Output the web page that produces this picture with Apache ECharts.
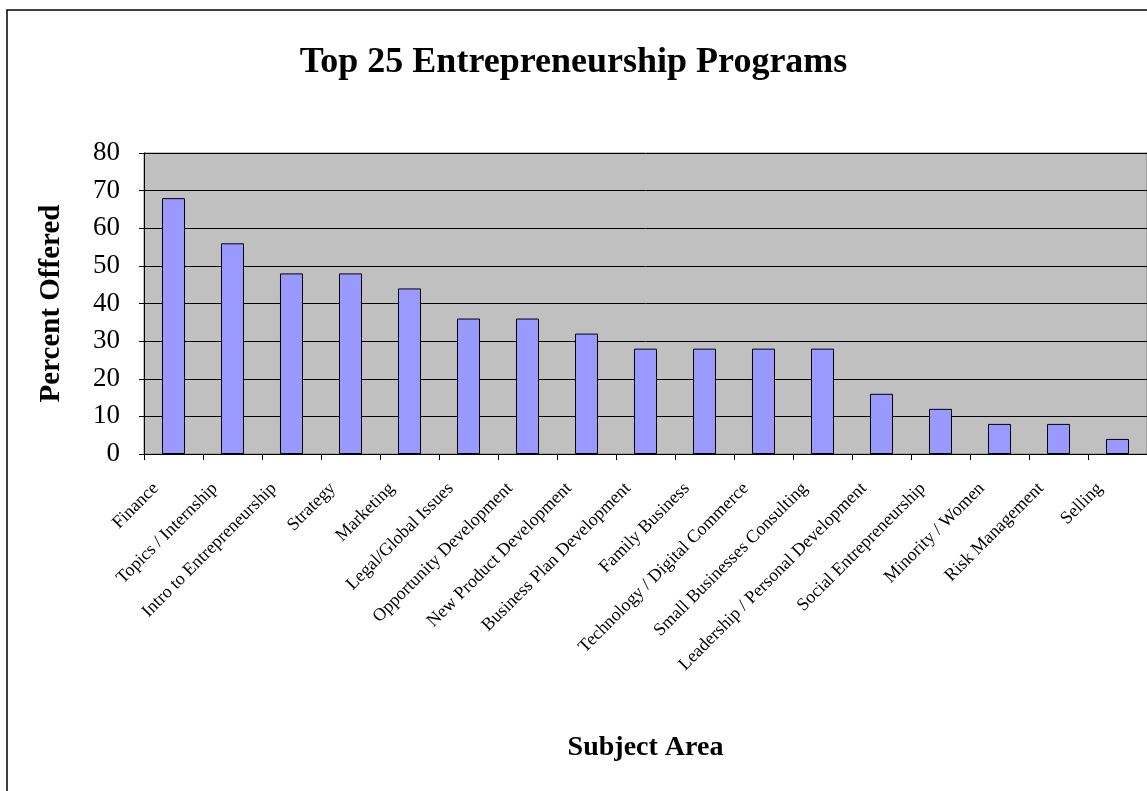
<!DOCTYPE html>
<html>
<head>
<meta charset="utf-8">
<script src="https://cdn.jsdelivr.net/npm/echarts@6/dist/echarts.min.js"></script>
<style>
html,body{margin:0;padding:0;background:#fff;}
#c{width:1147px;height:791px;}
</style>
</head>
<body>
<div id="c"></div>
<script>
const categories = ["Finance","Topics / Internship","Intro to Entrepreneurship","Strategy","Marketing","Legal/Global Issues","Opportunity Development","New Product Development","Business Plan Development","Family Business","Technology / Digital Commerce","Small Businesses Consulting","Leadership / Personal Development","Social Entrepreneurship","Minority / Women","Risk Management","Selling"];
const percentOffered = [68,56,48,48,44,36,36,32,28,28,28,28,16,12,8,8,4];
const yTicks = {min:0,max:80,interval:10};

const chart = echarts.init(document.getElementById('c'));
const serif = '"Liberation Serif","DejaVu Serif",serif';
chart.setOption({
  animation:false,
  backgroundColor:'#fff',
  title:{
    text:'Top 25 Entrepreneurship Programs',
    left:'center', top:40,
    textStyle:{fontFamily:serif,fontWeight:'bold',fontSize:36,color:'#000'}
  },
  graphic:[{
    type:'rect', shape:{x:7,y:10,width:1300,height:1000},
    style:{fill:'none',stroke:'#000',lineWidth:1.5}, z:-10
  }],
  grid:{left:144,right:0,top:153,bottom:337,show:true,backgroundColor:'#C0C0C0',borderColor:'#808080',borderWidth:1},
  xAxis:{
    type:'category', data:categories,
    name:'Subject Area', nameLocation:'middle', nameGap:280,
    nameTextStyle:{fontFamily:serif,fontWeight:'bold',fontSize:28,color:'#000'},
    axisLine:{lineStyle:{color:'#000',width:1}},
    axisTick:{show:true,length:6,lineStyle:{color:'#000'}},
    axisLabel:{rotate:45,interval:0,fontFamily:serif,fontSize:18,color:'#000',margin:14,padding:[0,25,0,0]}
  },
  yAxis:{
    type:'value', min:yTicks.min, max:yTicks.max, interval:yTicks.interval,
    name:'Percent Offered', nameLocation:'middle', nameGap:78,
    nameTextStyle:{fontFamily:serif,fontWeight:'bold',fontSize:29,color:'#000'},
    axisLine:{show:true,lineStyle:{color:'#000'}},
    axisTick:{show:true,length:5,lineStyle:{color:'#000'}},
    axisLabel:{fontFamily:serif,fontSize:27,color:'#000',margin:24},
    splitLine:{show:true,lineStyle:{color:'#000',width:1}}
  },
  series:[{
    type:'bar', data:percentOffered, barWidth:'39%',
    itemStyle:{color:'#9999FF',borderColor:'#000',borderWidth:1}
  }]
});
</script>
</body>
</html>
